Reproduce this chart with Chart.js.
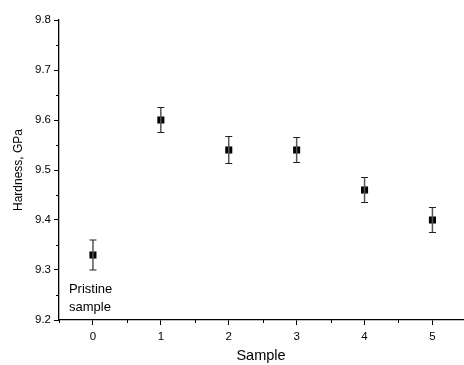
<!DOCTYPE html>
<html>
<head>
<meta charset="utf-8">
<script src="https://cdn.jsdelivr.net/npm/chart.js@4"></script>
<style>
  body { margin: 0; background: #fff; }
  #c { display: block; }
</style>
</head>
<body>
<canvas id="c" width="464" height="365"></canvas>
<script>
const samples = [0, 1, 2, 3, 4, 5];
const hardness = [9.33, 9.60, 9.54, 9.54, 9.46, 9.40];
const hardnessErr = [0.03, 0.025, 0.027, 0.025, 0.025, 0.025];
const xTicks = [0, 1, 2, 3, 4, 5];
const yTicks = [9.2, 9.3, 9.4, 9.5, 9.6, 9.7, 9.8];
const note = ['Pristine', 'sample'];

const font = 'Arial, "Liberation Sans", sans-serif';

// error bars, minor ticks and the little note
const extras = {
  id: 'extras',
  afterLayout(chart) {
    // let the x axis run to the right edge like the original
    const x = chart.scales.x;
    const r = chart.width - 1;
    x.right = r; x.width = r - x.left;
    chart.chartArea.right = r; chart.chartArea.width = r - chart.chartArea.left;
    x.configure();
  },
  afterDatasetsDraw(chart) {
    const ctx = chart.ctx;
    const x = chart.scales.x, y = chart.scales.y;
    ctx.save();
    samples.forEach((s, i) => {
      const px = x.getPixelForValue(s);
      const top = y.getPixelForValue(hardness[i] + hardnessErr[i]);
      const bot = y.getPixelForValue(hardness[i] - hardnessErr[i]);
      ctx.strokeStyle = '#555';
      ctx.lineWidth = 1.5;
      ctx.beginPath();
      ctx.moveTo(px, top); ctx.lineTo(px, bot);
      ctx.stroke();
      ctx.strokeStyle = '#222';
      ctx.lineWidth = 1.2;
      ctx.beginPath();
      ctx.moveTo(px - 3.5, top); ctx.lineTo(px + 3.5, top);
      ctx.moveTo(px - 3.5, bot); ctx.lineTo(px + 3.5, bot);
      ctx.stroke();
    });
    // minor ticks
    ctx.strokeStyle = '#000';
    ctx.lineWidth = 1;
    ctx.beginPath();
    for (let i = 0; i < yTicks.length - 1; i++) {
      const py = Math.round(y.getPixelForValue(yTicks[i] + 0.05)) + 0.5;
      ctx.moveTo(x.left, py); ctx.lineTo(x.left - 3, py);
    }
    for (let i = 0; i < xTicks.length; i++) {
      [-0.5, 0.5].forEach(d => {
        const v = xTicks[i] + d;
        if (v < x.min || v > x.max || (d < 0 && i > 0)) return;
        const px = Math.round(x.getPixelForValue(v)) + 0.5;
        ctx.moveTo(px, y.bottom); ctx.lineTo(px, y.bottom + 3);
      });
    }
    ctx.stroke();
    ctx.fillStyle = '#000';
    ctx.font = '13px ' + font;
    ctx.textBaseline = 'middle';
    const nx = x.getPixelForValue(0) - 24;
    ctx.fillText(note[0], nx, y.getPixelForValue(9.262));
    ctx.fillText(note[1], nx, y.getPixelForValue(9.226));
    ctx.restore();
  }
};

new Chart(document.getElementById('c'), {
  type: 'scatter',
  data: {
    datasets: [{
      data: samples.map((s, i) => ({ x: s, y: hardness[i] })),
      pointStyle: 'rect',
      pointRadius: 5,
      pointHoverRadius: 5,
      backgroundColor: '#000',
      borderColor: '#000',
      borderWidth: 0
    }]
  },
  options: {
    responsive: false,
    animation: false,
    layout: { padding: { top: 20, right: 1, left: 0, bottom: 0 } },
    plugins: { legend: { display: false }, tooltip: { enabled: false } },
    scales: {
      x: {
        min: -0.5, max: 5.45,
        afterBuildTicks: s => { s.ticks = xTicks.map(v => ({ value: v })); },
        afterFit: s => { s.height = 45; },
        ticks: { color: '#000', font: { family: font, size: 11.5 }, padding: 5, maxRotation: 0 },
        grid: { drawOnChartArea: false, tickLength: 5, color: '#000' },
        border: { color: '#000', width: 1.3 },
        title: { display: true, text: 'Sample', color: '#000', font: { family: font, size: 14.5 }, padding: { top: 2, bottom: 0 } }
      },
      y: {
        min: 9.2, max: 9.8,
        afterBuildTicks: s => { s.ticks = yTicks.map(v => ({ value: v })); },
        afterFit: s => { s.width = 59; },
        ticks: { color: '#000', font: { family: font, size: 11.5 }, padding: 3, callback: v => v.toFixed(1) },
        grid: { drawOnChartArea: false, tickLength: 5, color: '#000' },
        border: { color: '#000', width: 1.3 },
        title: { display: true, text: 'Hardness, GPa', color: '#000', font: { family: font, size: 12 }, padding: { top: 11, bottom: 0 } }
      }
    }
  },
  plugins: [extras]
});
</script>
</body>
</html>
